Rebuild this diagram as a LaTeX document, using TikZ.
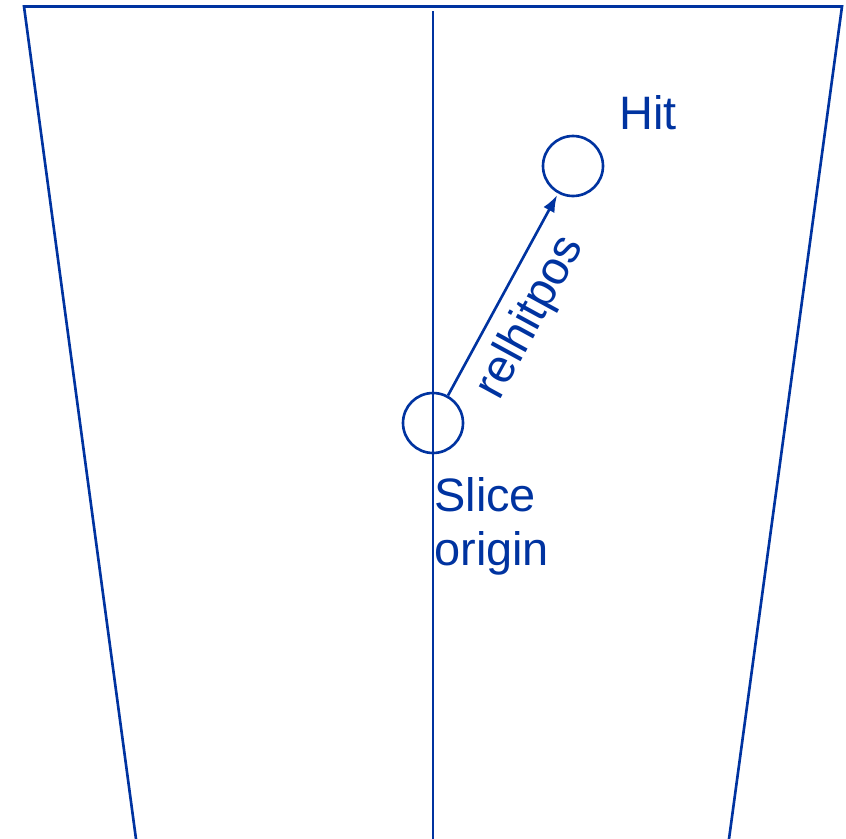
\documentclass[tikz,border=0pt]{standalone}
\usepackage{fontspec}
\setmainfont{Liberation Sans}
\usetikzlibrary{arrows.meta,calc,positioning}
\definecolor{slblue}{RGB}{0,51,160}
\tikzset{
  vtx/.style={circle,draw=slblue,line width=1.5pt,minimum size=1.2cm,inner sep=0pt},
  edge/.style={-{Latex[length=0.34cm,width=0.25cm]},line width=1.5pt,draw=slblue},
  wall/.style={line width=1.5pt,draw=slblue},
  axis/.style={line width=1.5pt,draw=slblue},
  lbl/.style={text=slblue,inner sep=0pt},
  every node/.style={font=\fontsize{26.7}{30.7}\selectfont}
}
\begin{document}
\begin{tikzpicture}[x=0.02cm,y=-0.02cm]
\useasboundingbox (0,0) rectangle (846,839);
% slice outline
\coordinate (tl) at (24,6.5);
\coordinate (tr) at (842,6.5);
\coordinate (bl) at (136,839);
\coordinate (br) at (729,839);
\draw[wall,line join=miter] (bl) -- (tl) -- (tr) -- (br);
% slice axis
\coordinate (atop) at (433,11);
\coordinate (abot) at (433,839);
\draw[axis] (atop) -- (abot);
% origin and hit
\node[vtx] (orig) at (433,423) {};
\node[vtx] (hit) at (573,166) {};
\node[lbl,anchor=base west] (hitlbl) at (619,129) {Hit};
\node[lbl,anchor=north west,align=left] (origlbl) at (434,477) {Slice\\origin};
% relative position
\draw[edge,shorten >=1pt] (orig) -- node[lbl,sloped,below,pos=0.47,yshift=-7pt]{relhitpos} (hit);
\end{tikzpicture}
\end{document}
